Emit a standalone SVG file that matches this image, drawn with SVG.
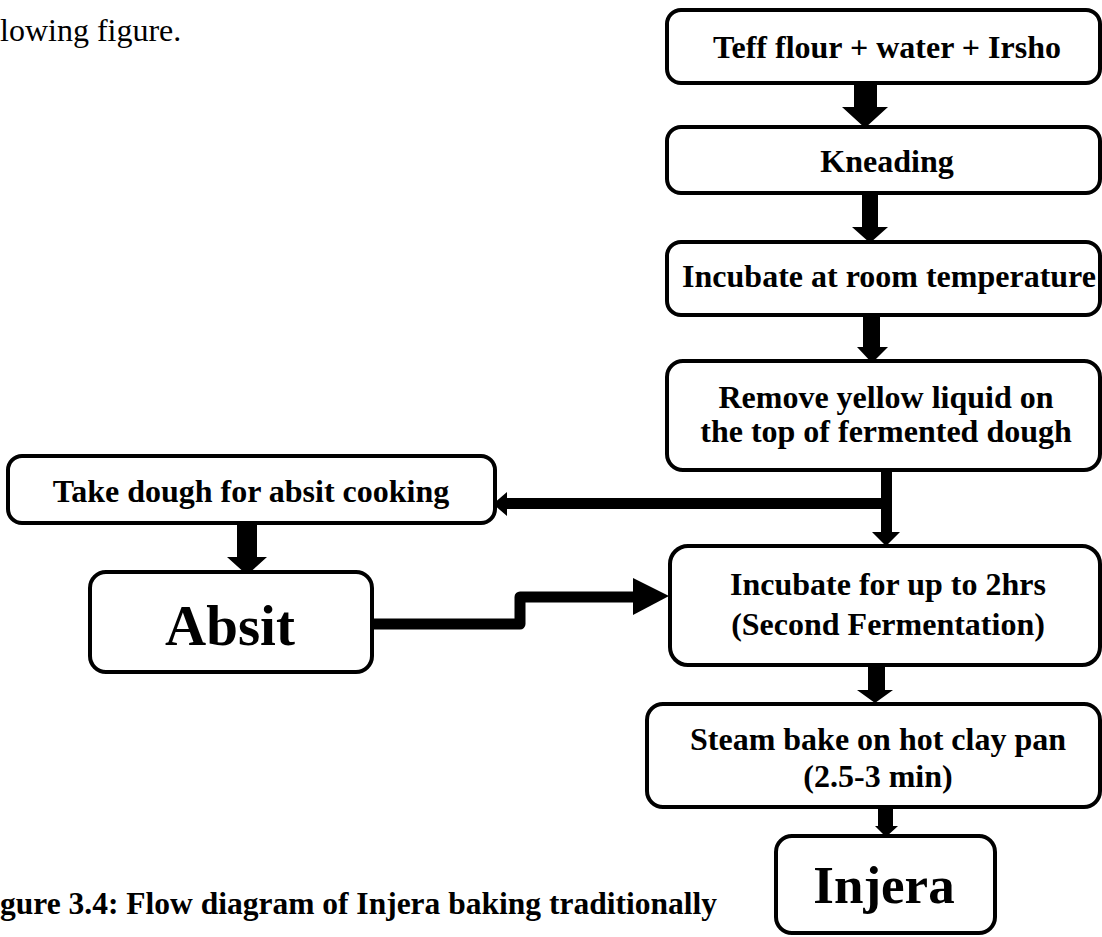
<svg xmlns="http://www.w3.org/2000/svg" width="1102" height="937" viewBox="0 0 1102 937">
<style>
.box{fill:#fff;stroke:#000;stroke-width:4}
.lbl{font-family:"Liberation Serif","Times New Roman",serif;font-weight:bold;font-size:32px;fill:#000;text-anchor:middle}
.big{font-size:57px}
.arr{fill:#000;stroke:none}
.ln{fill:none;stroke:#000;stroke-width:11;stroke-linejoin:round}
</style>
<rect width="1102" height="937" fill="#fff"/>
<text x="0" y="41" style="font-family:'Liberation Serif','Times New Roman',serif;font-size:32px;fill:#000">lowing figure.</text>
<g id="connectors">
<path class="arr" d="M854,83 H877 V107 H888 L865,128 L842,107 H854 Z"/>
<path class="arr" d="M862,193 H878 V227 H888 L870,243 L852,227 H862 Z"/>
<path class="arr" d="M863,315 H880 V347 H888 L872,363 L857,347 H863 Z"/>
<path class="arr" d="M881,470 H892 V532 H900 L886,546 L872,532 H881 Z"/>
<path class="arr" d="M892,498 V509 H507 V516 L493,504 L507,492 V498 Z"/>
<path class="ln" d="M372,624 H520 V597 H636"/>
<path class="arr" d="M633,578 L669,596 L633,615 Z"/>
<path class="arr" d="M868,665 H885 V690 H893 L875,703 L857,690 H868 Z"/>
<path class="arr" d="M878,807 H893 V826 H898 L886,837 L875,826 H878 Z"/>
<path class="arr" d="M237,523 H257 V557 H267 L247,575 L227,557 H237 Z"/>
</g>
<g id="n1"><rect class="box" x="667" y="10" width="433" height="73" rx="14"/><text class="lbl" x="887" y="58">Teff flour + water + Irsho</text></g>
<g id="n2"><rect class="box" x="667" y="127" width="433" height="66" rx="14"/><text class="lbl" x="887" y="172">Kneading</text></g>
<g id="n3"><rect class="box" x="667" y="242" width="433" height="73" rx="14"/><text class="lbl" x="889" y="287">Incubate at room temperature</text></g>
<g id="n4"><rect class="box" x="667" y="361" width="433" height="109" rx="16"/><text class="lbl" x="886" y="408">Remove yellow liquid on</text><text class="lbl" x="886" y="442">the top of fermented dough</text></g>
<g id="n5"><rect class="box" x="8" y="456" width="487" height="67" rx="14"/><text class="lbl" x="251" y="502">Take dough for absit cooking</text></g>
<g id="n6"><rect class="box" x="90" y="572" width="282" height="100" rx="16"/><text class="lbl big" x="230" y="645">Absit</text></g>
<g id="n7"><rect class="box" x="670" y="546" width="430" height="119" rx="18"/><text class="lbl" x="888" y="595">Incubate for up to 2hrs</text><text class="lbl" x="888" y="635">(Second Fermentation)</text></g>
<g id="n8"><rect class="box" x="647" y="704" width="453" height="103" rx="16"/><text class="lbl" x="878" y="750">Steam bake on hot clay pan</text><text class="lbl" x="878" y="787">(2.5-3 min)</text></g>
<g id="n9"><rect class="box" x="776" y="836" width="219" height="97" rx="16"/><text class="lbl" x="884" y="903" style="font-size:53px">Injera</text></g>
<text x="0" y="914" style="font-family:'Liberation Serif','Times New Roman',serif;font-weight:bold;font-size:31.5px;fill:#000">gure 3.4: Flow diagram of Injera baking traditionally</text>
</svg>
